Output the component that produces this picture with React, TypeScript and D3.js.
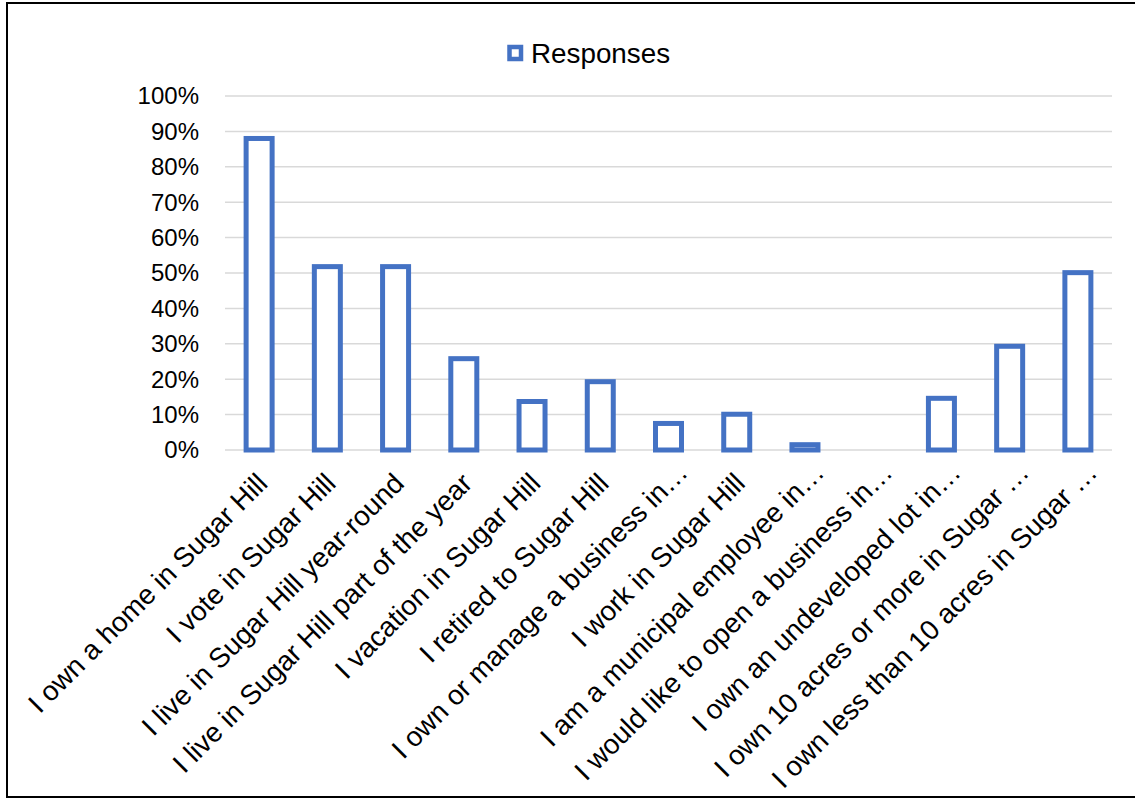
import React, { useEffect, useRef } from 'react';
import * as d3 from 'd3';

const categories = [
  'I own a home in Sugar Hill',
  'I vote in Sugar Hill',
  'I live in Sugar Hill year-round',
  'I live in Sugar Hill part of the year',
  'I vacation in Sugar Hill',
  'I retired to Sugar Hill',
  'I own or manage a business in…',
  'I work in Sugar Hill',
  'I am a municipal employee in…',
  'I would like to open a business in…',
  'I own an undeveloped lot in…',
  'I own 10 acres or more in Sugar …',
  'I own less than 10 acres in Sugar …',
];
const responses = [0.88, 0.518, 0.518, 0.258, 0.137, 0.193, 0.075, 0.101, 0.015, 0, 0.146, 0.293, 0.501];
const yTicks = [0, 0.1, 0.2, 0.3, 0.4, 0.5, 0.6, 0.7, 0.8, 0.9, 1];
const seriesName = 'Responses';

const App: React.FC = () => {
  const ref = useRef<SVGSVGElement>(null);

  useEffect(() => {
    if (!ref.current) return;
    const svg = d3.select(ref.current);
    svg.selectAll('*').remove();

    const blue = '#4472C4';
    const font = "'Liberation Sans', Arial, sans-serif";

    // chart border
    svg.append('rect')
      .attr('x', 7).attr('y', 3)
      .attr('width', 1140).attr('height', 794)
      .attr('fill', '#fff')
      .attr('stroke', '#000')
      .attr('stroke-width', 2);

    const x = d3.scaleBand<string>()
      .domain(categories)
      .range([225, 1112])
      .paddingInner(0)
      .paddingOuter(0);

    const y = d3.scaleLinear().domain([0, 1]).range([450, 96]);

    // gridlines
    svg.append('g')
      .selectAll('line')
      .data(yTicks)
      .enter()
      .append('line')
      .attr('x1', 225).attr('x2', 1112)
      .attr('y1', d => y(d)).attr('y2', d => y(d))
      .attr('stroke', '#d9d9d9')
      .attr('stroke-width', 1.5);

    // y tick labels
    svg.append('g')
      .selectAll('text')
      .data(yTicks)
      .enter()
      .append('text')
      .attr('x', 199)
      .attr('y', d => y(d))
      .attr('dy', '0.35em')
      .attr('text-anchor', 'end')
      .attr('font-family', font)
      .attr('font-size', 24)
      .attr('fill', '#000')
      .text(d => d3.format('.0%')(d));

    // bars
    const barW = 26;
    const sw = 5;
    svg.append('g')
      .selectAll('rect')
      .data(responses)
      .enter()
      .append('rect')
      .attr('x', (d, i) => (x(categories[i]) ?? 0) + x.bandwidth() / 2 - barW / 2)
      .attr('y', d => y(d))
      .attr('width', barW)
      .attr('height', d => y(0) - y(d))
      .attr('fill', '#fff')
      .attr('stroke', blue)
      .attr('stroke-width', sw)
      .attr('visibility', d => (d > 0 ? 'visible' : 'hidden'));

    // category labels (truncated ones sit a bit further up the diagonal)
    svg.append('g')
      .selectAll('text')
      .data(categories)
      .enter()
      .append('text')
      .attr('transform', d => {
        const off = d.endsWith('…') ? 11 : 0;
        return `translate(${(x(d) ?? 0) + x.bandwidth() / 2 + 10 + off},${485 - off}) rotate(-45)`;
      })
      .attr('text-anchor', 'end')
      .attr('font-family', font)
      .attr('font-size', 27.8)
      .attr('fill', '#000')
      .text(d => d);

    // legend
    const lg = svg.append('g');
    lg.append('rect')
      .attr('x', 509.5).attr('y', 47)
      .attr('width', 11.5).attr('height', 12)
      .attr('fill', '#fff')
      .attr('stroke', blue)
      .attr('stroke-width', 4.5);
    lg.append('text')
      .attr('x', 531).attr('y', 63)
      .attr('font-family', font)
      .attr('font-size', 27.8)
      .attr('fill', '#000')
      .text(seriesName);
  }, []);

  return (
    <svg
      ref={ref}
      width={1135}
      height={799}
      style={{ position: 'absolute', left: 0, top: 0, display: 'block' }}
    />
  );
};

export default App;
